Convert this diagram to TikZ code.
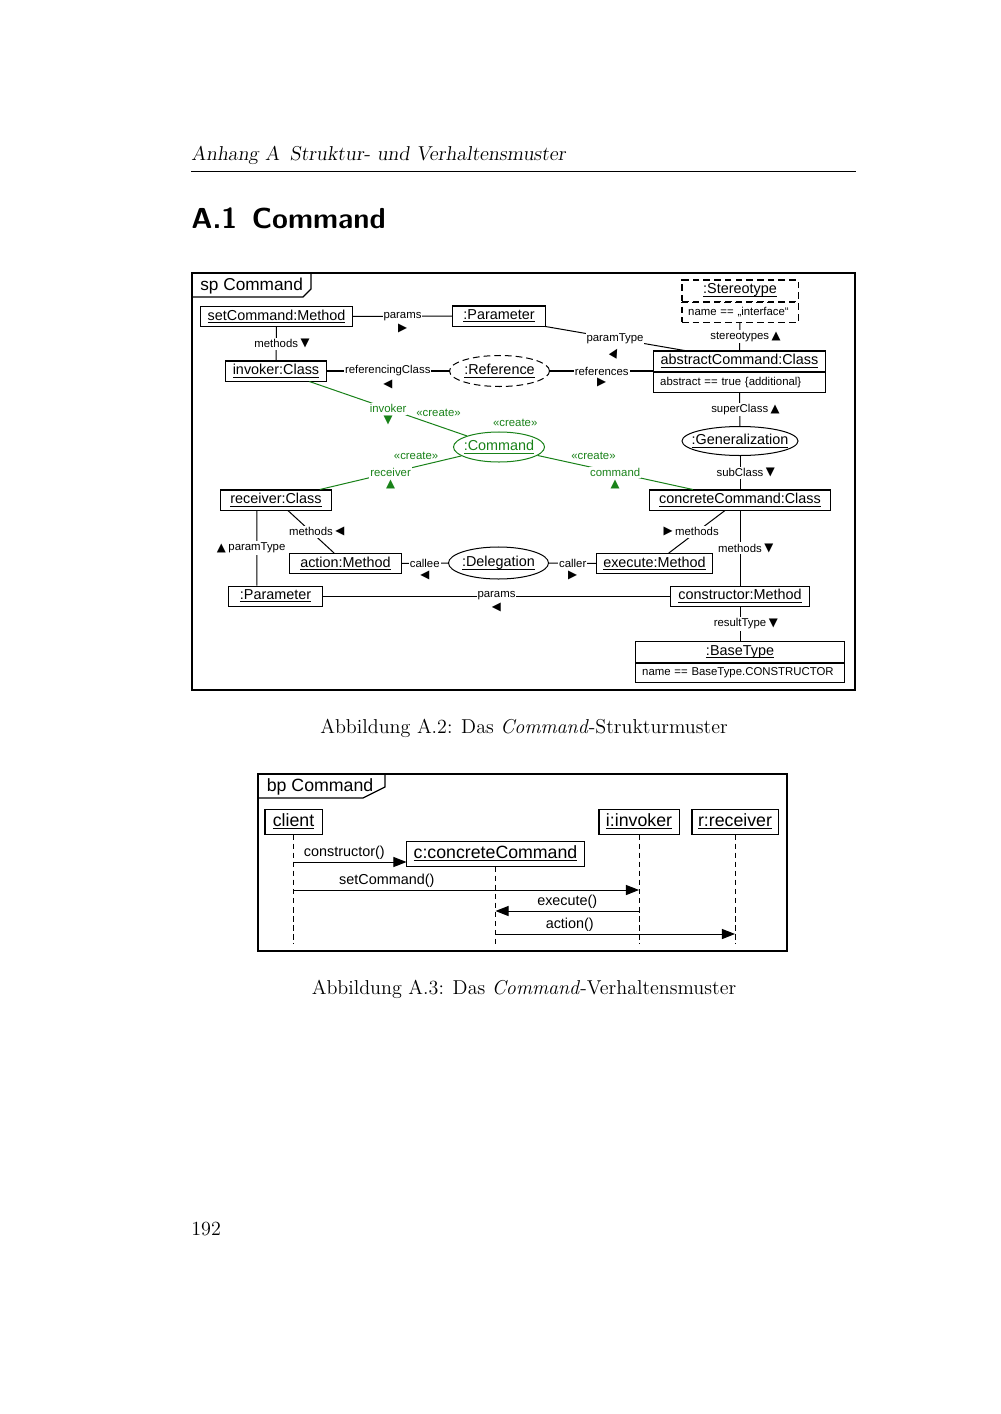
\documentclass[tikz,border=0pt]{standalone}
\usepackage{amsmath}
\usepackage{graphicx}
\usepackage{fontspec}
\newfontfamily\umlfont{Liberation Sans}
\newfontfamily\trifont{DejaVu Sans}
\usepackage{tikz}
\usetikzlibrary{positioning,arrows.meta,shapes.geometric,calc}

\definecolor{umlgreen}{RGB}{25,130,25}
\newcommand{\objname}[1]{\underline{\smash[b]{#1}}}
\newcommand{\ellname}[1]{\makebox[0pt]{\objname{#1}}}
\newcommand{\umlsize}{\umlfont\fontsize{8.6}{10}\selectfont}
\newcommand{\lblsize}{\umlfont\fontsize{6.8}{8}\selectfont}
\newcommand{\pagesize}{\fontsize{12}{14.5}\selectfont}

\begin{document}
\begin{tikzpicture}[x=0.021cm, y=-0.021cm,
    obj/.style={rectangle, draw, line width=0.6pt, font=\umlsize, inner sep=0pt, minimum height=0.42cm},
    objell/.style={ellipse, draw, line width=0.6pt, font=\umlsize, inner sep=0pt},
    attr/.style={rectangle, draw, line width=0.6pt, font=\lblsize, inner xsep=0.13cm, inner ysep=0pt, minimum height=0.43cm, align=left},
    lbl/.style={fill=white, font=\lblsize, inner xsep=0.6pt, inner ysep=1pt},
    tri/.style={font=\trifont\fontsize{7}{7}\selectfont, inner sep=0.3pt},
    glbl/.style={lbl, text=umlgreen},
    gtri/.style={tri, text=umlgreen},
    crt/.style={font=\lblsize, text=umlgreen, inner sep=0.5pt},
    link/.style={draw, line width=0.6pt},
    glink/.style={draw=umlgreen, line width=0.6pt},
    frame/.style={draw, line width=0.7pt},
    frametitle/.style={font=\umlfont\fontsize{10.3}{12}\selectfont, inner sep=0pt, anchor=base west},
    seqobj/.style={rectangle, draw, line width=0.6pt, font=\umlfont\fontsize{10.6}{12}\selectfont, inner sep=0pt, minimum height=0.525cm},
    lifeline/.style={draw, line width=0.6pt, dash pattern=on 3.4pt off 2pt},
    msg/.style={draw, line width=0.6pt, -{Triangle[length=7.8pt, width=6pt]}},
    msglbl/.style={font=\umlsize, inner sep=1pt}]

    \fill[white] (0,0) rectangle (1000,1414);
    \useasboundingbox (0,0) rectangle (1000,1414);

    % Seitenkopf
    \node[anchor=base west, font=\pagesize\slshape, inner sep=0pt] (header) at (191,161) {Anhang A\enskip Struktur- und Verhaltensmuster};
    \draw[line width=0.4pt] (191,171) -- (856,171);
    \node[anchor=base west, font=\fontsize{17.28}{20}\selectfont\sffamily\bfseries, inner sep=0pt] (section) at (191,229) {A.1\enskip Command};

    % Strukturmuster
    \draw[frame] (192,273) rectangle (855,690);
    \draw[frame] (192,297) -- (303,297) -- (311,289) -- (311,273);
    \node[frametitle] (spTitle) at (200,290.5) {sp Command};

    \node[obj, minimum width=3.171cm] (setC) at (276.5,316.5) {\objname{setCommand:Method}};
    \node[obj, minimum width=1.932cm] (paramTop) at (499,316) {\objname{:Parameter}};
    \node[obj, minimum width=2.1cm] (invoker) at (276,371) {\objname{invoker:Class}};
    \node[objell, dash pattern=on 4pt off 2.4pt, minimum width=2.1cm, minimum height=0.651cm] (reference) at (499.5,371) {\ellname{:Reference}};
    \node[obj, dash pattern=on 4pt off 2.4pt, minimum width=2.436cm, minimum height=0.441cm] (stereo) at (740,290.5) {\objname{:Stereotype}};
    \node[attr, dash pattern=on 4pt off 2.4pt, text width=2.176cm, below=0pt of stereo] (stereoAttr) {name == „interface“};
    \node[obj, minimum width=3.591cm] (absCmd) at (739.5,361) {\objname{abstractCommand:Class}};
    \node[attr, text width=3.331cm, below=0pt of absCmd] (absAttr) {abstract == true \{additional\}};
    \node[objell, minimum width=2.436cm, minimum height=0.609cm] (gen) at (740,441) {\ellname{:Generalization}};
    \node[objell, draw=umlgreen, text=umlgreen, minimum width=1.911cm, minimum height=0.63cm,
          label={[crt, xshift=0.34cm, yshift=2.5pt]above:«create»}] (cmd) at (499,447) {\ellname{:Command}};
    \node[obj, minimum width=2.31cm] (receiver) at (276,500) {\objname{receiver:Class}};
    \node[obj, minimum width=3.78cm] (concrete) at (740,500) {\objname{concreteCommand:Class}};
    \node[obj, minimum width=2.331cm] (action) at (345.5,563.5) {\objname{action:Method}};
    \node[objell, minimum width=2.1cm, minimum height=0.672cm] (deleg) at (498.5,563) {\ellname{:Delegation}};
    \node[obj, minimum width=2.415cm] (execute) at (654.5,563.5) {\objname{execute:Method}};
    \node[obj, minimum width=1.953cm] (paramBot) at (275.5,596) {\objname{:Parameter}};
    \node[obj, minimum width=2.898cm] (ctor) at (740,596) {\objname{constructor:Method}};
    \node[obj, minimum width=4.368cm, minimum height=0.441cm] (baseType) at (740,652) {\objname{:BaseType}};
    \node[attr, text width=4.108cm, minimum height=0.4cm, below=0pt of baseType] (baseAttr) {name == BaseType.CONSTRUCTOR};

    \draw[link] (setC) -- node[lbl, label={[tri]below:▶}]{params} (paramTop);
    \draw[link] (setC) -- node[lbl, label={[tri]right:▼}]{methods} (invoker);
    \draw[link] (paramTop.south east) -- node[lbl, label={[tri]below:\rotatebox{-30}{▲}}]{paramType} ([xshift=0.65cm]absCmd.north west);
    \draw[link] (invoker) -- node[lbl, label={[tri]below:◀}]{referencingClass} (reference);
    \draw[link] (reference) -- node[lbl, label={[tri]below:▶}]{references} (reference -| absCmd.west);
    \draw[link] (stereoAttr) -- node[lbl, label={[tri]right:▲}]{stereotypes} (absCmd);
    \draw[link] (absAttr) -- node[lbl, label={[tri]right:▲}]{superClass} (gen);
    \draw[link] (gen) -- node[lbl, label={[tri]right:▼}]{subClass} (concrete);
    \draw[link] (concrete) -- node[lbl, label={[tri]right:▼}]{methods} (ctor);
    \draw[link] (ctor) -- node[lbl, label={[tri]right:▼}]{resultType} (baseType);
    \draw[link] ([xshift=-0.4cm]receiver.south) -- node[lbl, label={[tri]left:▲}]{paramType} ([xshift=-0.39cm]paramBot.north);
    \draw[link] ([xshift=0.25cm]receiver.south) -- node[lbl, label={[tri]right:◀}]{methods} ([xshift=-0.24cm]action.north);
    \draw[link] ([xshift=-0.315cm]concrete.south) -- node[lbl, label={[tri]left:▶}]{methods} ([xshift=0.3cm]execute.north);
    \draw[link] (action) -- node[lbl, label={[tri]below:◀}]{callee} (deleg);
    \draw[link] (deleg) -- node[lbl, label={[tri]below:▶}]{caller} (execute);
    \draw[link] (paramBot) -- node[lbl, label={[tri]below:◀}]{params} (ctor);

    % create-Links
    \draw[glink] ([xshift=0.7cm]invoker.south) -- node[glbl, label={[gtri]below:▼}]{invoker}
        node[crt, pos=0.82, above=5pt]{«create»} (cmd);
    \draw[glink] ([xshift=0.92cm]receiver.north) -- node[glbl, label={[gtri]below:▲}]{receiver}
        node[crt, pos=0.68, above=3.5pt]{«create»} (cmd);
    \draw[glink] (cmd) -- node[glbl, label={[gtri]below:▲}]{command}
        node[crt, pos=0.36, above=4pt]{«create»} ([xshift=-0.99cm]concrete.north);

    \node[anchor=base, font=\pagesize, inner sep=0pt] (capA) at (524,733) {Abbildung A.2: Das \textit{Command}-Strukturmuster};

    % Verhaltensmuster
    \draw[frame] (258,774) rectangle (787,951);
    \draw[frame] (258,798) -- (363,798) -- (385,787) -- (385,774);
    \node[frametitle, font=\umlfont\fontsize{10.6}{12}\selectfont] (bpTitle) at (266.5,791.7) {bp Command};

    \node[seqobj, minimum width=1.197cm] (client) at (293.5,821.5) {\objname{client}};
    \node[seqobj, minimum width=3.717cm] (cc) at (495.5,853.5) {\objname{c:concreteCommand}};
    \node[seqobj, minimum width=1.68cm] (inv) at (639,821.5) {\objname{i:invoker}};
    \node[seqobj, minimum width=1.806cm] (rcv) at (735,821.5) {\objname{r:receiver}};

    \coordinate (lifeEnd) at (0,944);
    \foreach \obj in {client, cc, inv, rcv}
        \draw[lifeline] (\obj.south) -- (\obj.south |- lifeEnd);

    \coordinate (m1) at (0,862);
    \coordinate (m2) at (0,890);
    \coordinate (m3) at (0,911);
    \coordinate (m4) at (0,934);
    \draw[msg] (client.south |- m1) -- node[msglbl, pos=0.45, above]{constructor()} (cc.west |- m1);
    \draw[msg] (client.south |- m2) -- node[msglbl, pos=0.27, above]{setCommand()} (inv.south |- m2);
    \draw[msg] (inv.south |- m3) -- node[msglbl, above]{execute()} (cc.south |- m3);
    \draw[msg] (cc.south |- m4) -- node[msglbl, pos=0.31, above]{action()} (rcv.south |- m4);

    \node[anchor=base, font=\pagesize, inner sep=0pt] (capB) at (524,994) {Abbildung A.3: Das \textit{Command}-Verhaltensmuster};

    \node[anchor=base west, font=\pagesize, inner sep=0pt] (pageno) at (191,1235) {192};

\end{tikzpicture}
\end{document}
